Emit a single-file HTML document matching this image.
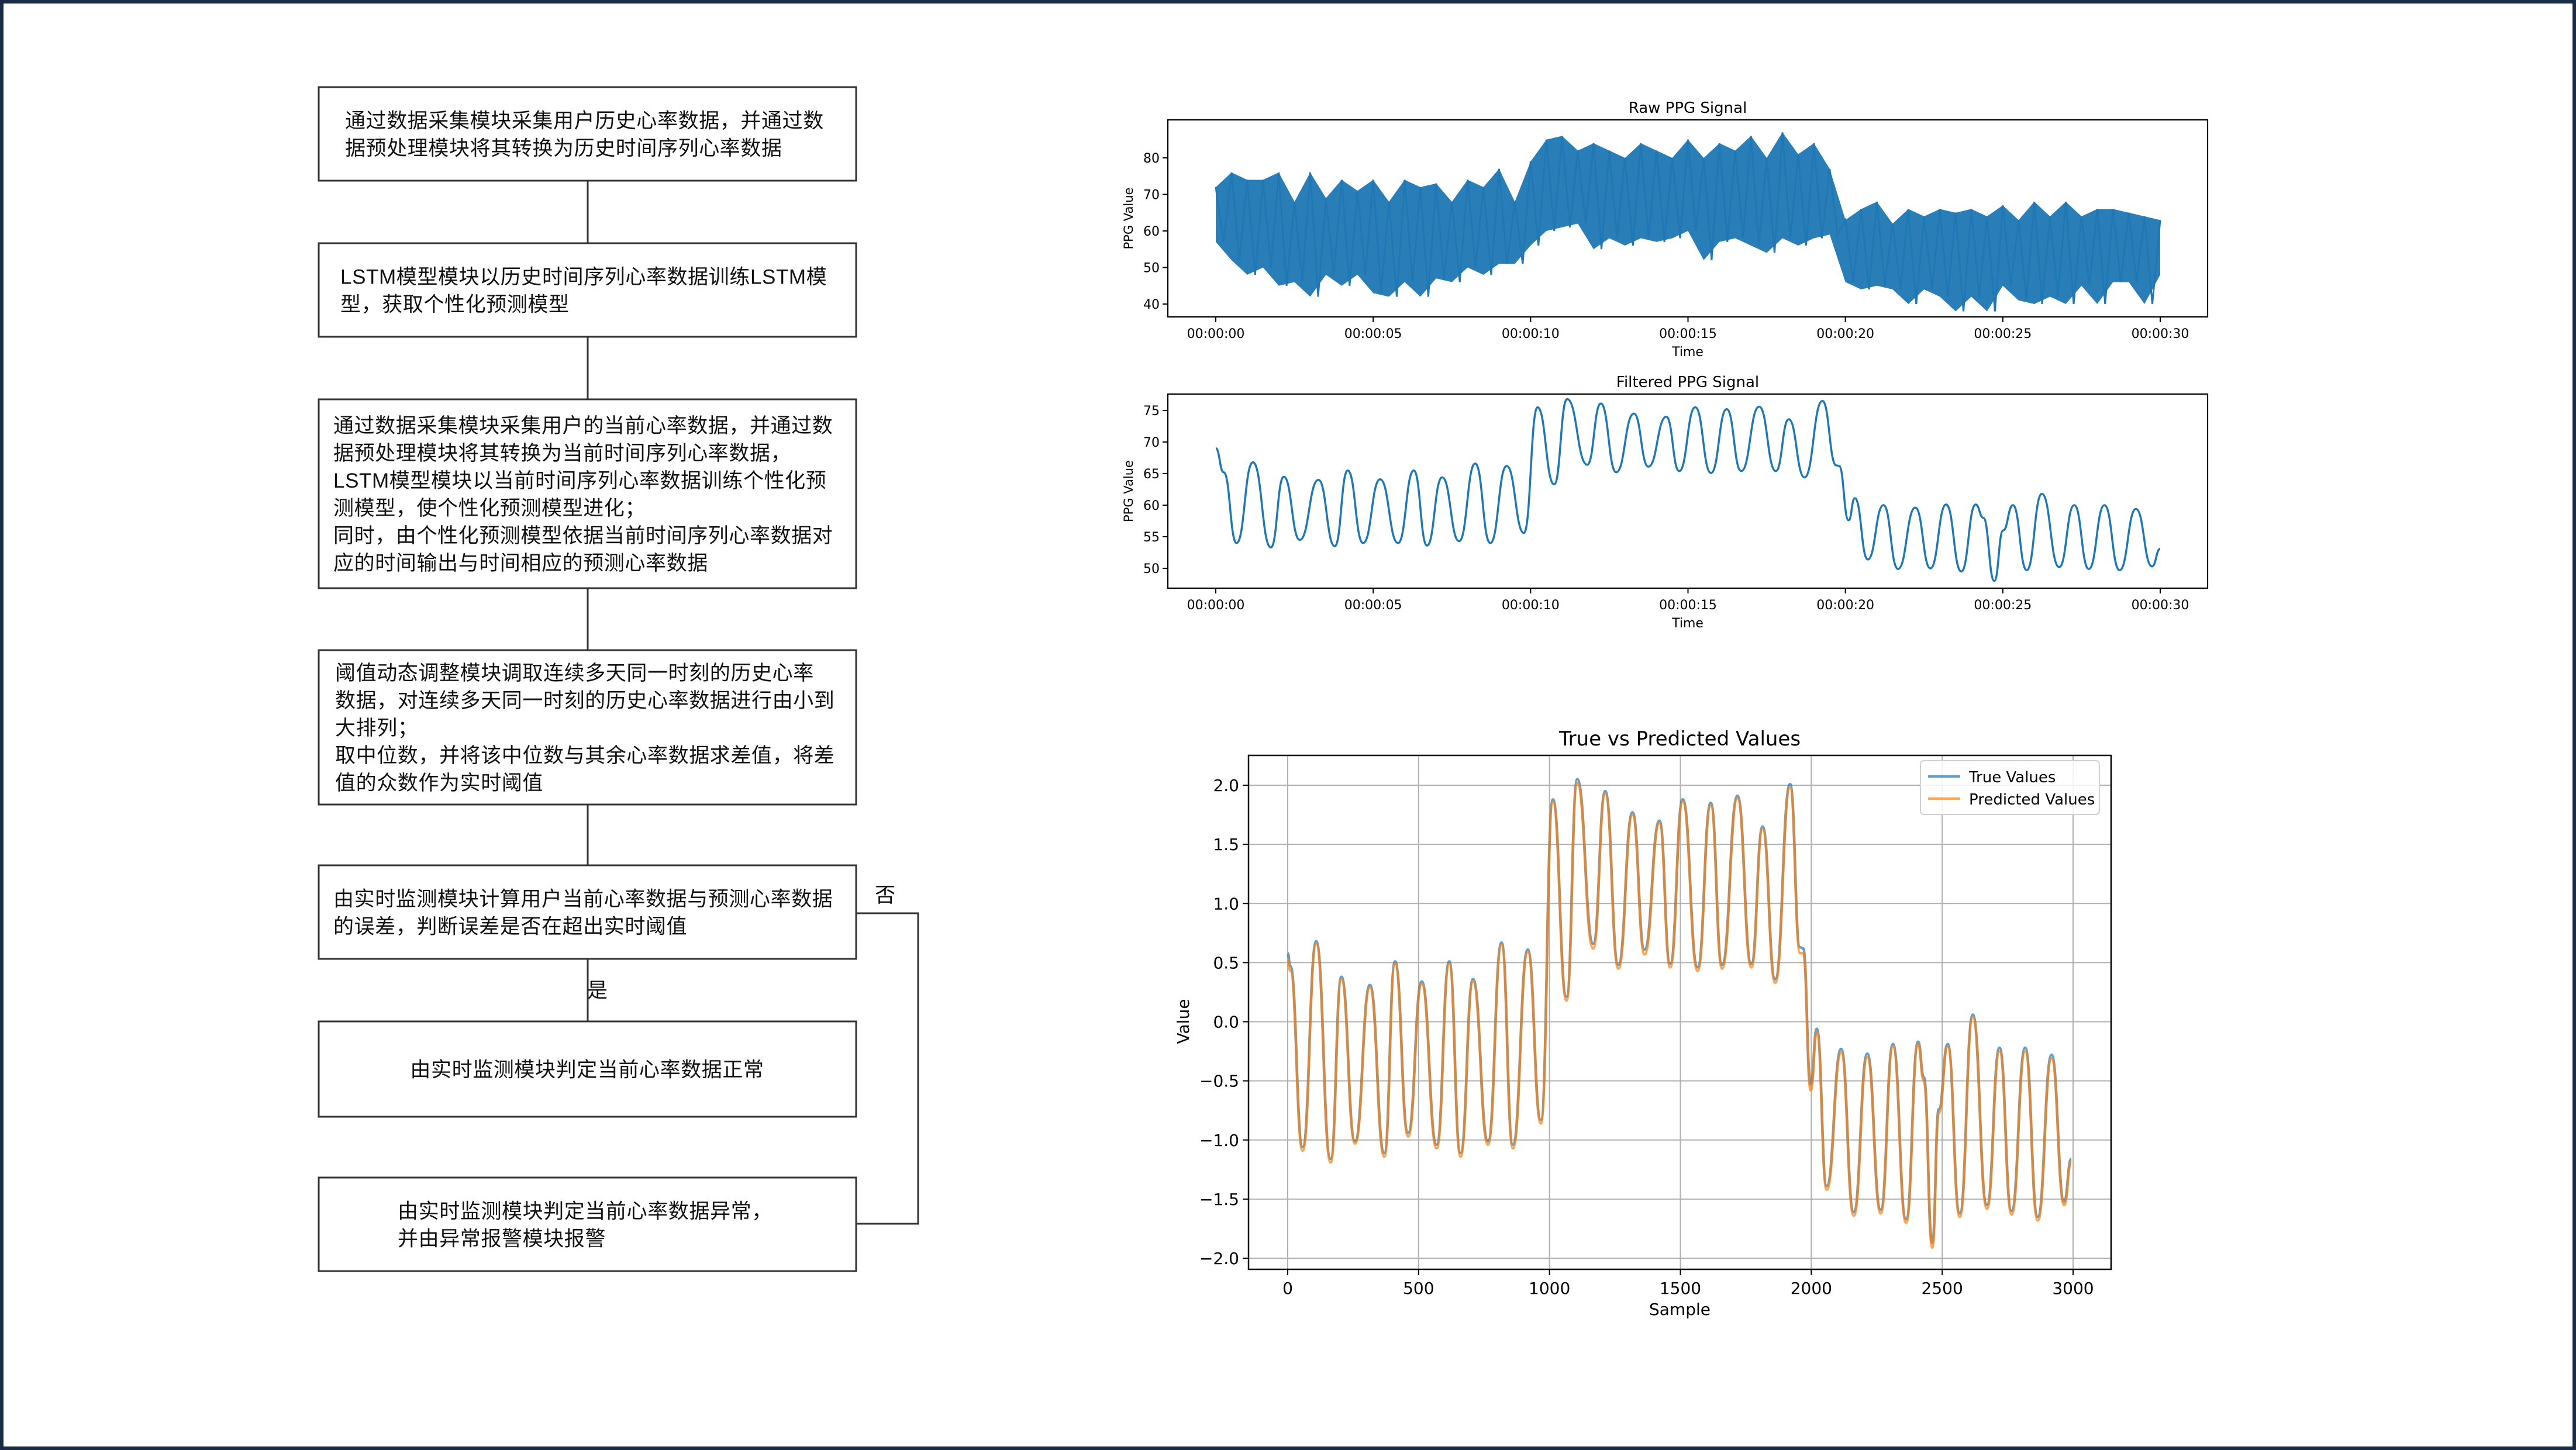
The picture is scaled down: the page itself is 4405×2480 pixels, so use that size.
<!DOCTYPE html>
<html><head><meta charset="utf-8"><style>
html,body{margin:0;padding:0;background:#fff;}
svg{display:block;font-family:"DejaVu Sans","Liberation Sans",sans-serif;}
.fc{font-family:"Liberation Sans","Noto Sans CJK SC",sans-serif;font-size:35px;fill:#111;letter-spacing:0.6px;}
</style></head><body>
<svg id="root" width="4405" height="2480" viewBox="0 0 4405 2480" xmlns="http://www.w3.org/2000/svg">
<rect x="3" y="3" width="4399" height="2474" fill="#fff" stroke="#1c2b45" stroke-width="6"/>
<g id="flow"></g>
<g id="raw"></g>
<g id="filt"></g>
<g id="pred"></g>
</svg>
<script>
// ---------- DATA ----------
const rawTimes = [0,0.5,1,1.5,2,2.5,3,3.5,4,4.5,5,5.5,6,6.5,7,7.5,8,8.5,9,9.5,10,10.5,11,11.5,12,12.5,13,13.5,14,14.5,15,15.5,16,16.5,17,17.5,18,18.5,19,19.5,20,20.5,21,21.5,22,22.5,23,23.5,24,24.5,25,25.5,26,26.5,27,27.5,28,28.5,29,29.5,30];
const rawHigh = [72,76,74,74,76,68,76,69,74,71,74,68,74,72,73,68,74,72,77,68,79,85,86,82,84,82,80,84,82,80,85,80,84,82,86,80,87,81,84,77,63,66,68,62,66,64,66,65,66,64,67,63,68,64,68,64,66,66,65,64,63];
const rawLow = [57,52,48,50,45,46,42,48,45,48,43,42,46,42,47,46,50,48,51,51,56,60,61,62,55,58,56,58,57,58,60,52,57,58,56,54,58,56,58,59,46,44,45,44,40,44,42,38,42,38,45,41,40,42,40,45,40,46,46,40,48];
const rawTicks = [40,50,60,70,80];
const timeTicks = [0,5,10,15,20,25,30];

const filtTimes = [0,0.25,0.66,1.18,1.75,2.16,2.67,3.26,3.78,4.19,4.68,5.22,5.79,6.29,6.71,7.19,7.73,8.24,8.72,9.24,9.79,10.22,10.75,11.16,11.8,12.23,12.72,13.28,13.74,14.31,14.72,15.23,15.73,16.23,16.69,17.26,17.79,18.2,18.7,19.27,19.71,19.8,20.1,20.3,20.71,21.21,21.67,22.22,22.7,23.2,23.68,24.14,24.38,24.73,25.01,25.32,25.76,26.24,26.79,27.27,27.73,28.23,28.71,29.23,29.74,30];
const filtValues = [69,65.2,54,66.8,53.3,64.5,54.5,64,53.5,65.5,54,64.1,54,65.5,53.6,64.4,54.3,66.6,54,66.2,55.6,75.5,63.3,76.8,66.4,76.1,65.2,74.5,66.1,74,65.4,75.5,65.1,75.2,65.4,75.6,65.4,73.6,64.4,76.5,66.3,66.2,57.6,61.1,51.4,60,49.9,59.6,50,60.1,49.5,60.1,58,48,56,60,49.7,61.8,50.2,60,49.9,60,49.7,59.4,50.3,53.1];
const filtTicks = [50,55,60,65,70,75];

const samples = [0,10,57,109,164,205,257,314,369,410,460,512,569,617,660,708,765,817,860,917,967,1013,1065,1106,1167,1213,1263,1317,1363,1420,1461,1509,1566,1616,1659,1718,1771,1814,1862,1919,1957,1969,1998,2021,2059,2114,2162,2214,2265,2312,2362,2408,2430,2462,2487,2521,2567,2617,2671,2719,2765,2817,2865,2918,2966,2993];
const trueValues = [0.58,0.47,-1.06,0.68,-1.16,0.38,-1.01,0.31,-1.11,0.51,-0.94,0.34,-1.04,0.51,-1.11,0.36,-1.01,0.67,-1.04,0.61,-0.83,1.88,0.21,2.05,0.66,1.95,0.48,1.77,0.61,1.70,0.49,1.88,0.46,1.85,0.48,1.91,0.49,1.65,0.36,2.01,0.63,0.62,-0.53,-0.06,-1.39,-0.23,-1.61,-0.27,-1.59,-0.19,-1.67,-0.17,-0.47,-1.87,-0.74,-0.19,-1.62,0.06,-1.55,-0.22,-1.60,-0.22,-1.65,-0.28,-1.52,-1.16];
const predValues = [0.53,0.43,-1.09,0.66,-1.19,0.36,-1.03,0.29,-1.14,0.49,-0.97,0.32,-1.07,0.49,-1.14,0.34,-1.04,0.65,-1.07,0.59,-0.86,1.86,0.18,2.02,0.62,1.93,0.45,1.75,0.57,1.68,0.46,1.86,0.43,1.83,0.45,1.89,0.46,1.63,0.33,1.98,0.58,0.58,-0.58,-0.09,-1.42,-0.26,-1.64,-0.30,-1.62,-0.21,-1.70,-0.19,-0.50,-1.91,-0.77,-0.21,-1.65,0.04,-1.58,-0.25,-1.63,-0.25,-1.68,-0.31,-1.55,-1.18];
const predXTicks = [0,500,1000,1500,2000,2500,3000];
const predYTicks = [-2,-1.5,-1,-0.5,0,0.5,1,1.5,2];

// ---------- helpers ----------
const NS="http://www.w3.org/2000/svg";
function mk(parent,tag,attrs,text){const e=document.createElementNS(NS,tag);for(const k in attrs)e.setAttribute(k,attrs[k]);if(text!==undefined)e.textContent=text;parent.appendChild(e);return e;}
function smooth(pts){let d="M"+pts[0][0].toFixed(1)+","+pts[0][1].toFixed(1);for(let i=1;i<pts.length;i++){const a=pts[i-1],b=pts[i],m=(b[0]-a[0])/2;d+=" C"+(a[0]+m).toFixed(1)+","+a[1].toFixed(1)+" "+(b[0]-m).toFixed(1)+","+b[1].toFixed(1)+" "+b[0].toFixed(1)+","+b[1].toFixed(1);}return d;}
function fmtTime(t){return "00:00:"+String(t).padStart(2,"0");}
function fmtNum(v){const s=Math.abs(v).toFixed(1);return (v<0?"\u2212":"")+s;}

// ---------- flowchart ----------
const flow=document.getElementById('flow');
const boxes=[
 {y1:149,y2:309,x:590,lines:["通过数据采集模块采集用户历史心率数据，并通过数","据预处理模块将其转换为历史时间序列心率数据"]},
 {y1:416,y2:576,x:582,lines:["LSTM模型模块以历史时间序列心率数据训练LSTM模","型，获取个性化预测模型"]},
 {y1:683,y2:1006,x:570,lines:["通过数据采集模块采集用户的当前心率数据，并通过数","据预处理模块将其转换为当前时间序列心率数据，","LSTM模型模块以当前时间序列心率数据训练个性化预","测模型，使个性化预测模型进化；","同时，由个性化预测模型依据当前时间序列心率数据对","应的时间输出与时间相应的预测心率数据"]},
 {y1:1112,y2:1376,x:573,lines:["阈值动态调整模块调取连续多天同一时刻的历史心率","数据，对连续多天同一时刻的历史心率数据进行由小到","大排列；","取中位数，并将该中位数与其余心率数据求差值，将差","值的众数作为实时阈值"]},
 {y1:1480,y2:1640,x:570,lines:["由实时监测模块计算用户当前心率数据与预测心率数据","的误差，判断误差是否在超出实时阈值"]},
 {y1:1747,y2:1910,x:-1,lines:["由实时监测模块判定当前心率数据正常"]},
 {y1:2014,y2:2174,x:680,lines:["由实时监测模块判定当前心率数据异常，","并由异常报警模块报警"]}
];
boxes.forEach((b,i)=>{
 const g=mk(flow,'g',{});
 
 
 mk(g,'rect',{x:545,y:b.y1,width:919,height:b.y2-b.y1,fill:'#fff',stroke:'#333',"stroke-width":3});
 const cy=(b.y1+b.y2)/2,lh=47;
 b.lines.forEach((ln,j)=>{
  const y=cy-(b.lines.length-1)*lh/2+j*lh+13;
  const t=mk(g,'text',b.x<0?{x:1004,y:y,'text-anchor':'middle',class:'fc'}:{x:b.x,y:y,class:'fc'},ln);
  
  
 });
 if(i<boxes.length-2){
  const c=mk(flow,'line',{x1:1005,y1:b.y2,x2:1005,y2:boxes[i+1].y1,stroke:'#333',"stroke-width":3});
  
  
 }
});
const loop=mk(flow,'polyline',{points:"1464,1562 1570,1562 1570,2093 1464,2093",fill:'none',stroke:'#333',"stroke-width":3});


const noL=mk(flow,'text',{x:1496,y:1543,class:'fc'},'否');


const yesL=mk(flow,'text',{x:1004,y:1706,class:'fc'},'是');



// ---------- PPG charts ----------
function ppgChart(gid,top,bottom,vmin,vmax,ticks,title){
 const g=document.getElementById(gid);
 const L=1997,R=3775;
 const x=t=>2079+t*(3694-2079)/30;
 const y=v=>bottom-(v-vmin)*(bottom-top)/(vmax-vmin);
 return {g,L,R,x,y,top,bottom,ticks,title};
}
function ppgAxes(c){
 const g=c.g;
 const tt=mk(g,'text',{x:2886,y:c.top-12,'text-anchor':'middle','font-size':26,fill:'#000'},c.title);
 
 
 c.ticks.forEach(v=>{
  const yy=c.y(v);
  mk(g,'line',{x1:c.L-9,y1:yy,x2:c.L,y2:yy,stroke:'#000',"stroke-width":2});
  const t=mk(g,'text',{x:c.L-14,y:yy+8,'text-anchor':'end','font-size':22,fill:'#000'},String(v));
  
  
 });
 timeTicks.forEach(tv=>{
  const xx=c.x(tv);
  mk(g,'line',{x1:xx,y1:c.bottom,x2:xx,y2:c.bottom+9,stroke:'#000',"stroke-width":2});
  const t=mk(g,'text',{x:xx,y:c.bottom+36,'text-anchor':'middle','font-size':22,fill:'#000'},fmtTime(tv));
  
  
 });
 const xl=mk(g,'text',{x:2886,y:c.bottom+67,'text-anchor':'middle','font-size':22,fill:'#000'},'Time');
 
 
 const cy=(c.top+c.bottom)/2;
 const yl=mk(g,'text',{x:1937,y:cy,'text-anchor':'middle','font-size':21,fill:'#000',transform:'rotate(-90 1937 '+cy+')'},'PPG Value');
 
 
 const fr=mk(g,'rect',{x:c.L,y:c.top,width:c.R-c.L,height:c.bottom-c.top,fill:'none',stroke:'#000',"stroke-width":2.2});
 
 
}
const rc=ppgChart('raw',205,542,40-(542-520)/6.25,40+(520-205)/6.25,rawTicks,'Raw PPG Signal');
{
 let up=rawTimes.map((t,i)=>[rc.x(t),rc.y(rawHigh[i])]);
 let lo=rawTimes.map((t,i)=>[rc.x(t),rc.y(rawLow[i])]).reverse();
 const band=mk(rc.g,'polygon',{points:up.concat(lo).map(p=>p[0].toFixed(1)+","+p[1].toFixed(1)).join(" "),fill:'#1f77b4','fill-opacity':0.95});
 
 
 const zz=[];
 rawTimes.forEach((t,i)=>{zz.push([rc.x(t),rc.y(rawHigh[i])]);if(i<rawTimes.length-1)zz.push([rc.x(t+0.25),rc.y(rawLow[i])]);});
 const line=mk(rc.g,'polyline',{points:zz.map(p=>p[0].toFixed(1)+","+p[1].toFixed(1)).join(" "),fill:'none',stroke:'#1f77b4',"stroke-width":3});
 
 
}
ppgAxes(rc);
const fc=ppgChart('filt',674,1006,50-(1006-972)/10.8,50+(972-674)/10.8,filtTicks,'Filtered PPG Signal');
{
 const p=mk(fc.g,'path',{d:smooth(filtTimes.map((t,i)=>[fc.x(t),fc.y(filtValues[i])])),fill:'none',stroke:'#1f77b4',"stroke-width":3.5});
 
 
}
ppgAxes(fc);

// ---------- True vs Predicted ----------
{
 const g=document.getElementById('pred');
 const L=2135,R=3610,T=1292,B=2171;
 const x=s=>2202+s*(3545-2202)/3000;
 const y=v=>1747.5-v*202.25;
 predXTicks.forEach(s=>{
  const gl=mk(g,'line',{x1:x(s),y1:T,x2:x(s),y2:B,stroke:'#b0b0b0',"stroke-width":2});
  
  
  mk(g,'line',{x1:x(s),y1:B,x2:x(s),y2:B+10,stroke:'#000',"stroke-width":2});
  const t=mk(g,'text',{x:x(s),y:B+42,'text-anchor':'middle','font-size':28,fill:'#000'},String(s));
  
  
 });
 predYTicks.forEach(v=>{
  const gl=mk(g,'line',{x1:L,y1:y(v),x2:R,y2:y(v),stroke:'#b0b0b0',"stroke-width":2});
  
  
  mk(g,'line',{x1:L-10,y1:y(v),x2:L,y2:y(v),stroke:'#000',"stroke-width":2});
  const t=mk(g,'text',{x:L-16,y:y(v)+10,'text-anchor':'end','font-size':28,fill:'#000'},fmtNum(v));
  
  
 });
 const tl=mk(g,'path',{d:smooth(samples.map((s,i)=>[x(s),y(trueValues[i])])),fill:'none',stroke:'#1f77b4','stroke-opacity':0.7,"stroke-width":4.5});
 
 
 const pl=mk(g,'path',{d:smooth(samples.map((s,i)=>[x(s),y(predValues[i])])),fill:'none',stroke:'#ff7f0e','stroke-opacity':0.7,"stroke-width":4.5});
 
 
 const fr=mk(g,'rect',{x:L,y:T,width:R-L,height:B-T,fill:'none',stroke:'#000',"stroke-width":2.5});
 
 
 const title=mk(g,'text',{x:(L+R)/2,y:T-17,'text-anchor':'middle','font-size':34,fill:'#000'},'True vs Predicted Values');
 
 
 const xl=mk(g,'text',{x:(L+R)/2,y:B+78,'text-anchor':'middle','font-size':28,fill:'#000'},'Sample');
 
 
 const yl=mk(g,'text',{x:2033,y:1747,'text-anchor':'middle','font-size':28,fill:'#000',transform:'rotate(-90 2033 1747)'},'Value');
 
 
 const lg=mk(g,'g',{});
 
 
 mk(lg,'rect',{x:3284,y:1301,width:306,height:92,rx:6,fill:'#fff','fill-opacity':0.85,stroke:'#d0d0d0',"stroke-width":2});
 const e1=mk(lg,'g',{});
 
 
 mk(e1,'line',{x1:3297,y1:1328,x2:3352,y2:1328,stroke:'#1f77b4','stroke-opacity':0.7,"stroke-width":4.5});
 mk(e1,'text',{x:3367,y:1338,'font-size':26,fill:'#000'},'True Values');
 const e2=mk(lg,'g',{});
 
 
 mk(e2,'line',{x1:3297,y1:1366,x2:3352,y2:1366,stroke:'#ff7f0e','stroke-opacity':0.7,"stroke-width":4.5});
 mk(e2,'text',{x:3367,y:1376,'font-size':26,fill:'#000'},'Predicted Values');
}
</script>
</body></html>
